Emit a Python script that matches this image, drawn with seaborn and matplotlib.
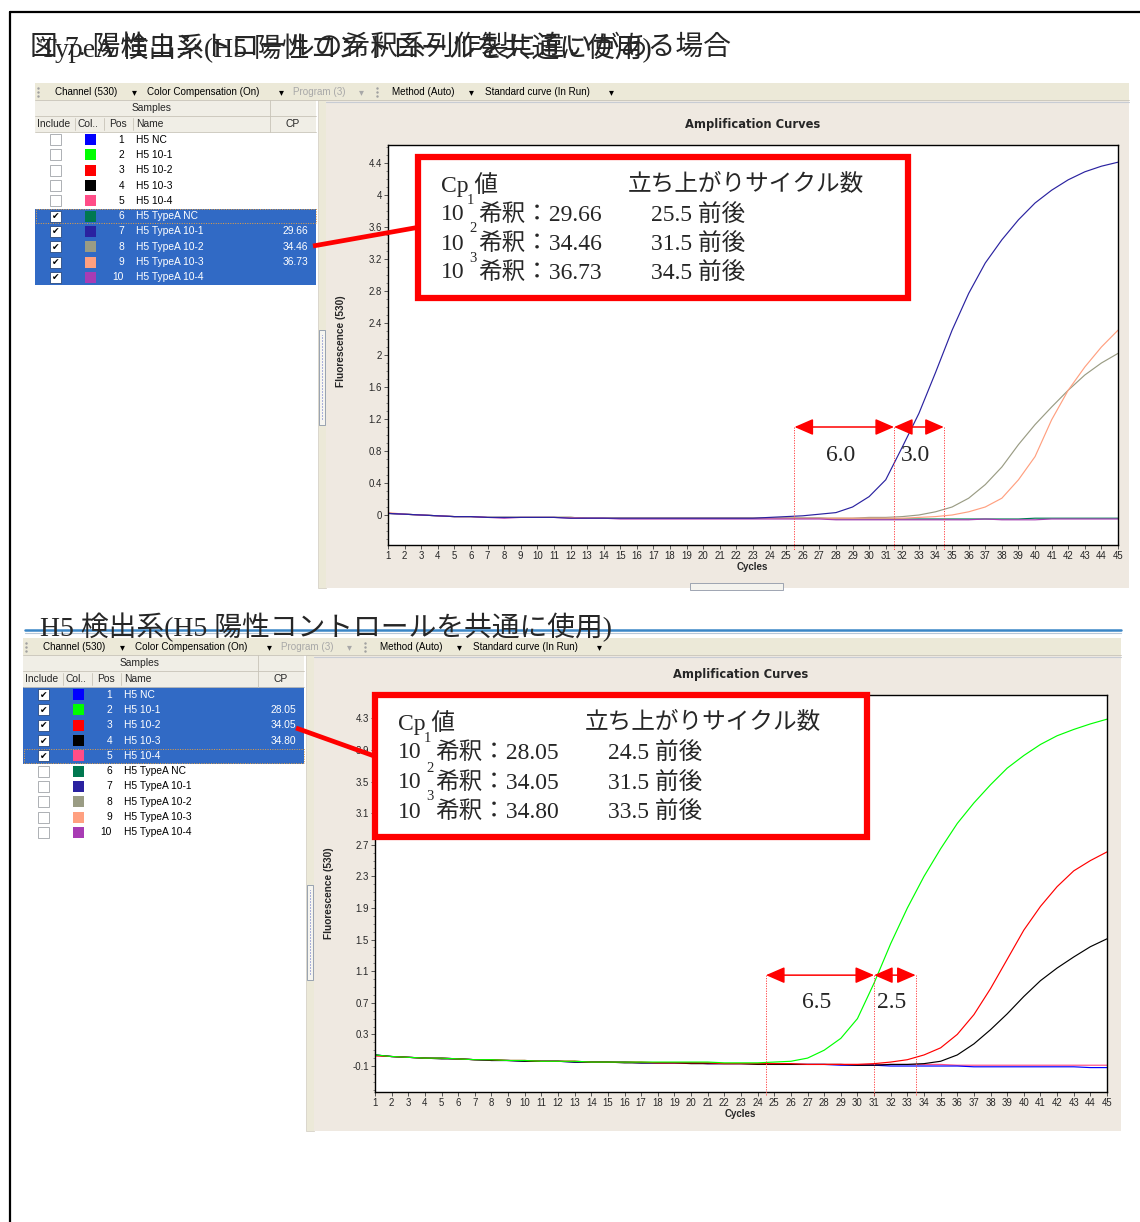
import matplotlib
matplotlib.use("Agg")
import matplotlib.pyplot as plt
from matplotlib.patches import Rectangle
from matplotlib.ticker import AutoMinorLocator
import pandas as pd
import seaborn as sns

W, H = 1140, 1222

# ---------------------------------------------------------------- data
cycles = list(range(1, 46))

sample_names = ["H5 NC", "H5 10-1", "H5 10-2", "H5 10-3", "H5 10-4",
                "H5 TypeA NC", "H5 TypeA 10-1", "H5 TypeA 10-2",
                "H5 TypeA 10-3", "H5 TypeA 10-4"]
sample_colors = ["#0000ff", "#00ff00", "#ff0000", "#000000", "#ff4d88",
                 "#007850", "#2a22a0", "#9a9c84", "#ffa080", "#a83cb4"]

cp_typea_run = ["", "", "", "", "", "", "29.66", "34.46", "36.73", ""]
cp_h5_run = ["", "28.05", "34.05", "34.80", "", "", "", "", "", ""]

# TypeA detection run (samples 6-10)
fl_typea_nc = [0.02, 0.01, 0.00, -0.01, -0.02, -0.02, -0.03, -0.03, -0.03, -0.03,
               -0.03, -0.03, -0.04, -0.04, -0.04, -0.04, -0.04, -0.04, -0.04, -0.04,
               -0.04, -0.04, -0.04, -0.04, -0.04, -0.04, -0.04, -0.05, -0.05, -0.05,
               -0.05, -0.05, -0.05, -0.05, -0.05, -0.05, -0.05, -0.05, -0.05, -0.04,
               -0.04, -0.04, -0.04, -0.04, -0.04]
fl_typea_1 = [0.02, 0.01, 0.00, -0.01, -0.02, -0.02, -0.03, -0.03, -0.03, -0.03,
              -0.03, -0.04, -0.04, -0.04, -0.04, -0.04, -0.04, -0.04, -0.04, -0.04,
              -0.04, -0.04, -0.04, -0.03, -0.02, -0.01, 0.01, 0.03, 0.10, 0.23,
              0.44, 0.85, 1.27, 1.78, 2.31, 2.77, 3.15, 3.44, 3.69, 3.90,
              4.06, 4.19, 4.29, 4.36, 4.41]
fl_typea_2 = [0.02, 0.01, 0.00, -0.01, -0.02, -0.02, -0.03, -0.03, -0.03, -0.03,
              -0.03, -0.03, -0.04, -0.04, -0.04, -0.04, -0.04, -0.04, -0.04, -0.04,
              -0.04, -0.04, -0.04, -0.04, -0.04, -0.04, -0.04, -0.04, -0.04, -0.03,
              -0.03, -0.02, 0.00, 0.04, 0.10, 0.21, 0.38, 0.60, 0.88, 1.13,
              1.35, 1.56, 1.75, 1.90, 2.02]
fl_typea_3 = [0.03, 0.01, 0.00, -0.01, -0.02, -0.02, -0.03, -0.03, -0.03, -0.03,
              -0.03, -0.03, -0.04, -0.04, -0.04, -0.04, -0.04, -0.04, -0.04, -0.04,
              -0.04, -0.04, -0.04, -0.04, -0.04, -0.04, -0.04, -0.04, -0.04, -0.04,
              -0.04, -0.04, -0.03, -0.02, 0.00, 0.04, 0.10, 0.21, 0.44, 0.73,
              1.19, 1.56, 1.85, 2.10, 2.31]
fl_typea_4 = [0.02, 0.01, 0.00, -0.01, -0.02, -0.02, -0.03, -0.04, -0.03, -0.03,
              -0.03, -0.04, -0.04, -0.04, -0.05, -0.05, -0.05, -0.05, -0.05, -0.05,
              -0.05, -0.05, -0.05, -0.05, -0.05, -0.05, -0.05, -0.06, -0.06, -0.06,
              -0.06, -0.06, -0.06, -0.06, -0.06, -0.06, -0.05, -0.06, -0.06, -0.06,
              -0.05, -0.05, -0.05, -0.05, -0.05]

# H5 detection run (samples 1-5)
fl_h5_nc = [0.04, 0.02, 0.01, 0.00, 0.00, -0.01, -0.02, -0.03, -0.03, -0.04,
            -0.04, -0.04, -0.05, -0.05, -0.05, -0.05, -0.06, -0.06, -0.06, -0.06,
            -0.07, -0.07, -0.07, -0.07, -0.08, -0.08, -0.08, -0.08, -0.09, -0.09,
            -0.09, -0.10, -0.10, -0.10, -0.10, -0.10, -0.11, -0.11, -0.11, -0.11,
            -0.11, -0.11, -0.11, -0.12, -0.12]
fl_h5_1 = [0.04, 0.02, 0.01, 0.00, 0.00, -0.01, -0.02, -0.02, -0.03, -0.03,
           -0.04, -0.04, -0.04, -0.05, -0.05, -0.05, -0.05, -0.05, -0.05, -0.05,
           -0.05, -0.06, -0.06, -0.06, -0.05, -0.04, 0.00, 0.10, 0.25, 0.50,
           0.95, 1.45, 1.90, 2.30, 2.65, 2.97, 3.23, 3.46, 3.67, 3.83,
           3.97, 4.08, 4.16, 4.23, 4.29]
fl_h5_2 = [0.03, 0.02, 0.01, 0.00, 0.00, -0.01, -0.02, -0.02, -0.03, -0.03,
           -0.04, -0.04, -0.04, -0.05, -0.05, -0.05, -0.05, -0.06, -0.06, -0.06,
           -0.06, -0.07, -0.07, -0.07, -0.07, -0.07, -0.08, -0.08, -0.08, -0.08,
           -0.07, -0.05, -0.02, 0.04, 0.13, 0.30, 0.55, 0.88, 1.25, 1.62,
           1.92, 2.17, 2.37, 2.50, 2.61]
fl_h5_3 = [0.04, 0.02, 0.01, 0.00, -0.01, -0.01, -0.02, -0.03, -0.03, -0.04,
           -0.04, -0.04, -0.05, -0.05, -0.05, -0.06, -0.06, -0.06, -0.06, -0.07,
           -0.07, -0.07, -0.07, -0.08, -0.08, -0.08, -0.08, -0.08, -0.08, -0.09,
           -0.09, -0.08, -0.08, -0.07, -0.04, 0.04, 0.18, 0.36, 0.56, 0.78,
           0.98, 1.14, 1.28, 1.41, 1.51]
fl_h5_4 = [0.03, 0.02, 0.01, 0.00, 0.00, -0.01, -0.02, -0.02, -0.03, -0.03,
           -0.04, -0.04, -0.04, -0.05, -0.05, -0.05, -0.06, -0.06, -0.06, -0.06,
           -0.07, -0.07, -0.07, -0.07, -0.07, -0.08, -0.08, -0.08, -0.08, -0.08,
           -0.08, -0.08, -0.08, -0.08, -0.08, -0.09, -0.09, -0.09, -0.09, -0.09,
           -0.09, -0.09, -0.09, -0.09, -0.09]

typea_yticks = [0.0, 0.4, 0.8, 1.2, 1.6, 2.0, 2.4, 2.8, 3.2, 3.6, 4.0, 4.4]
typea_ylabels = ["0", "0.4", "0.8", "1.2", "1.6", "2", "2.4", "2.8", "3.2", "3.6", "4", "4.4"]
h5_yticks = [-0.1, 0.3, 0.7, 1.1, 1.5, 1.9, 2.3, 2.7, 3.1, 3.5, 3.9, 4.3]
h5_ylabels = ["-0.1", "0.3", "0.7", "1.1", "1.5", "1.9", "2.3", "2.7", "3.1", "3.5", "3.9", "4.3"]

dilution_powers = ["1", "2", "3"]
typea_cp_values = ["29.66", "34.46", "36.73"]
typea_rise_text = ["25.5", "31.5", "34.5"]
typea_rise = [25.5, 31.5, 34.5]
h5_cp_values = ["28.05", "34.05", "34.80"]
h5_rise_text = ["24.5", "31.5", "33.5"]
h5_rise = [24.5, 31.0, 33.5]

title_fig = "図 7. 陽性コントロールの希釈系列作製に違いがある場合"
title_typea = "TypeA 検出系(H5 陽性コントロールを共通に使用)"
title_h5 = "H5 検出系(H5 陽性コントロールを共通に使用)"

# ---------------------------------------------------------------- style
sns.set_style("ticks")
plt.rcParams["font.family"] = ["Liberation Sans", "Noto Sans CJK JP"]
MIXED = ["Liberation Serif", "Noto Sans CJK JP"]
UI = 7.4
SEL = "#316ac5"
PANEL = "#efe9e1"
BAR = "#ece9d8"

fig = plt.figure(figsize=(W / 100, H / 100), dpi=100)
fig.patch.set_facecolor("white")


def px_rect(x0, y0, x1, y1):
    return [x0 / W, 1 - y1 / H, (x1 - x0) / W, (y1 - y0) / H]


bg = fig.add_axes([0, 0, 1, 1], zorder=0)
bg.set_xlim(0, W)
bg.set_ylim(H, 0)
bg.axis("off")

ov = fig.add_axes([0, 0, 1, 1], zorder=5)
ov.set_xlim(0, W)
ov.set_ylim(H, 0)
ov.axis("off")
ov.patch.set_alpha(0)

# page frame
bg.plot([10, 1140], [12, 12], color="black", lw=1.6)
bg.plot([10, 10], [12, 1222], color="black", lw=1.6)


def draw_window(L, T, right, bottom, checked, cp_list, focus):
    # toolbar
    bg.add_patch(Rectangle((L, T), right - L, 17, fc=BAR, ec="none"))
    bg.plot([L, right], [T + 17, T + 17], color="#c8c4b8", lw=0.6)
    for gy in range(3):
        bg.plot([L + 3], [T + 5 + gy * 4], ".", color="#a0a0a0", ms=1.5)
        bg.plot([L + 342], [T + 5 + gy * 4], ".", color="#a0a0a0", ms=1.5)
    items = [(20, "Channel (530)", "black"), (97, "▾", "black"),
             (112, "Color Compensation (On)", "black"), (244, "▾", "black"),
             (258, "Program (3)", "#a8a8a8"), (324, "▾", "#a8a8a8"),
             (357, "Method (Auto)", "black"), (434, "▾", "black"),
             (450, "Standard curve (In Run)", "black"), (574, "▾", "black")]
    for dx, s, c in items:
        bg.text(L + dx, T + 9, s, fontsize=UI - 0.3, color=c, va="center", ha="left",
                family=["DejaVu Sans"] if s == "▾" else None)

    # sample table
    tw = 281
    bg.add_patch(Rectangle((L, T + 17), tw, 32, fc="#f0eee6", ec="none"))
    bg.plot([L, L + tw], [T + 33, T + 33], color="#c8c4b8", lw=0.6)
    bg.plot([L, L + tw], [T + 49, T + 49], color="#c8c4b8", lw=0.6)
    bg.plot([L + 235, L + 235], [T + 17, T + 49], color="#c8c4b8", lw=0.6)
    for cx in (40, 69, 98):
        bg.plot([L + cx, L + cx], [T + 35, T + 47], color="#c8c4b8", lw=0.6)
    bg.text(L + 117, T + 25, "Samples", fontsize=UI, ha="center", va="center")
    bg.text(L + 2, T + 41, "Include", fontsize=UI, va="center")
    bg.text(L + 43, T + 41, "Col..", fontsize=UI, va="center")
    bg.text(L + 74, T + 41, "Pos", fontsize=UI, va="center")
    bg.text(L + 101, T + 41, "Name", fontsize=UI, va="center")
    bg.text(L + 258, T + 41, "CP", fontsize=UI, ha="center", va="center")
    rh = 15.3
    for i, name in enumerate(sample_names):
        y = T + 49 + i * rh
        yc = y + rh / 2
        sel = checked[i]
        if sel:
            bg.add_patch(Rectangle((L, y), tw, rh, fc=SEL, ec="none"))
        if i == focus:
            bg.add_patch(Rectangle((L + 0.5, y + 0.5), tw - 1, rh - 1, fill=False,
                                   ec="#e8a040", lw=0.7, ls=(0, (1, 1.5))))
        bg.add_patch(Rectangle((L + 15, yc - 5.5), 11, 11, fc="white",
                               ec="#2a4a80" if sel else "#a0a4a8", lw=0.6))
        if sel:
            bg.text(L + 20.5, yc + 0.5, "✔", fontsize=6.5, ha="center", va="center",
                    family=["DejaVu Sans"], color="black")
        bg.add_patch(Rectangle((L + 50, yc - 5.5), 11, 11, fc=sample_colors[i], ec="none"))
        tc = "white" if sel else "black"
        bg.text(L + 89, yc, str(i + 1), fontsize=UI, ha="right", va="center", color=tc)
        bg.text(L + 101, yc, name, fontsize=UI, ha="left", va="center", color=tc)
        if cp_list[i]:
            bg.text(L + 273, yc, cp_list[i], fontsize=UI, ha="right", va="center", color=tc)

    # splitter strip and chart panel
    bg.add_patch(Rectangle((L + 283, T + 17), 8, bottom - T - 17, fc=BAR, ec="#d0ccc0", lw=0.5))
    bg.add_patch(Rectangle((L + 284, T + 247), 6, 95, fc="#f6f5f0", ec="#8a96a8", lw=0.6))
    bg.plot([L + 287, L + 287], [T + 252, T + 337], color="#4050c0", lw=0.6, ls=(0, (0.6, 1.2)))
    bg.add_patch(Rectangle((L + 291, T + 17), right - L - 291, bottom - T - 17, fc=PANEL, ec="none"))
    bg.plot([L + 291, right], [T + 18.5, T + 18.5], color="#c8ccd4", lw=0.8)


def draw_curves(ax, series, names, yticks, ylabels, ylim):
    df = pd.DataFrame({
        "Cycle": cycles * len(series),
        "Fluorescence": [v for s in series for v in s],
        "Sample": [n for n in names for _ in cycles],
    })
    palette = dict(zip(sample_names, sample_colors))
    sns.lineplot(data=df, x="Cycle", y="Fluorescence", hue="Sample", hue_order=names,
                 palette=palette, ax=ax, legend=False, linewidth=0.85,
                 estimator=None, sort=True)
    ax.set_facecolor("white")
    ax.set_xlim(1, 45)
    ax.set_ylim(*ylim)
    ax.set_xticks(cycles)
    ax.set_xticklabels([str(c) for c in cycles])
    ax.set_yticks(yticks)
    ax.set_yticklabels(ylabels)
    ax.yaxis.set_minor_locator(AutoMinorLocator(4))
    ax.tick_params(axis="both", which="major", labelsize=6.9, length=3, width=0.6,
                   pad=1.5, direction="out", color="#404040")
    ax.tick_params(axis="y", which="minor", length=1.8, width=0.5, color="#606060")
    ax.set_xlabel("Cycles", fontsize=7, fontweight="bold")
    ax.set_ylabel("Fluorescence (530)", fontsize=7.3, fontweight="bold")
    for s in ax.spines.values():
        s.set_color("black")
        s.set_linewidth(1.0)
    ax.set_title("Amplification Curves", fontsize=8.3, fontweight="bold", pad=12,
                 family=["DejaVu Sans"])


def draw_rise(ax, rise, y_arrow, y_label, y_bottom):
    for x in rise:
        ax.plot([x, x], [y_arrow, y_bottom], color="#ff4040", lw=0.7,
                ls=(0, (1.2, 1.4)), clip_on=False, zorder=6)
    for a, b in zip(rise[:-1], rise[1:]):
        ax.annotate("", xy=(b, y_arrow), xytext=(a, y_arrow),
                    arrowprops=dict(arrowstyle="<|-|>,head_length=1.15,head_width=0.5",
                                    color="#ff0000", lw=1.1, shrinkA=0, shrinkB=0,
                                    mutation_scale=10), zorder=7)
        ax.text((a + b) / 2 - 0.2, y_label, f"{b - a:.1f}", fontsize=17, family=MIXED,
                ha="center", va="center", zorder=7)


def draw_box(x0, y0, x1, y1, cp_vals, rise_vals, row_dy):
    ov.add_patch(Rectangle((x0, y0), x1 - x0, y1 - y0, fc="white", ec="#ff0000", lw=4.5))
    ov.text(x0 + 23, y0 + 28, "Cp 値", fontsize=17, family=MIXED, va="center")
    ov.text(x0 + 210, y0 + 28, "立ち上がりサイクル数", fontsize=17, family=MIXED, va="center")
    for k, (p, cp, r) in enumerate(zip(dilution_powers, cp_vals, rise_vals)):
        yy = y0 + row_dy[k]
        ov.text(x0 + 23, yy, "10", fontsize=17, family=MIXED, va="center")
        ov.text(x0 + 60, yy, f"希釈：{cp}", fontsize=17, family=MIXED, va="center")
        ov.text(x0 + 233, yy, f"{r} 前後", fontsize=17, family=MIXED, va="center")
        ov.text(x0 + 49 + (2 if k else 0), yy - 15, p, fontsize=10.5, family=MIXED,
                ha="left", va="center")


# ---------------------------------------------------------------- TypeA run
bg.text(30, 48, title_fig, fontsize=20, family=MIXED, va="center")
bg.text(40, 48, title_typea, fontsize=20, family=MIXED, va="center")
draw_window(35, 83, 1129, 588,
            [False] * 5 + [True] * 5, cp_typea_run, 5)
bg.add_patch(Rectangle((690, 583), 93, 7, fc="#f4f3ee", ec="#9098a8", lw=0.6))

ax1 = fig.add_axes(px_rect(388, 145, 1118, 545), zorder=2)
draw_curves(ax1, [fl_typea_nc, fl_typea_2, fl_typea_3, fl_typea_4, fl_typea_1],
            ["H5 TypeA NC", "H5 TypeA 10-2", "H5 TypeA 10-3", "H5 TypeA 10-4", "H5 TypeA 10-1"],
            typea_yticks, typea_ylabels, (-0.375, 4.625))
ax1.yaxis.set_label_coords(-0.057, 0.51)
ax1.xaxis.set_label_coords(0.4986, -0.043)
draw_rise(ax1, typea_rise, 1.1, 0.75, -0.44)

draw_box(418, 157, 908, 298, typea_cp_values, typea_rise_text, [58, 87, 116])
ov.plot([313, 420], [246, 227], color="#ff0000", lw=3.4, solid_capstyle="butt")

# ---------------------------------------------------------------- H5 run
draw_window(23, 638, 1121, 1131,
            [True] * 5 + [False] * 5, cp_h5_run, 4)
bg.plot([25, 1121], [629.5, 629.5], color="#3b86c6", lw=1.8)
bg.plot([25, 1121], [632.5, 632.5], color="#b8c8d8", lw=0.8)
bg.text(40, 627, title_h5, fontsize=20, family=MIXED, va="center")

ax2 = fig.add_axes(px_rect(375, 695, 1107, 1092), zorder=2)
draw_curves(ax2, [fl_h5_4, fl_h5_nc, fl_h5_3, fl_h5_2, fl_h5_1],
            ["H5 10-4", "H5 NC", "H5 10-3", "H5 10-2", "H5 10-1"],
            h5_yticks, h5_ylabels, (-0.429, 4.596))
ax2.yaxis.set_label_coords(-0.056, 0.50)
ax2.xaxis.set_label_coords(0.4986, -0.043)
draw_rise(ax2, h5_rise, 1.05, 0.70, -0.47)

draw_box(375, 695, 867, 837, h5_cp_values, h5_rise_text, [58, 88, 117])
ov.plot([296, 377], [728, 757], color="#ff0000", lw=3.4, solid_capstyle="butt")

fig.savefig("out.png", dpi=100, facecolor="white")
